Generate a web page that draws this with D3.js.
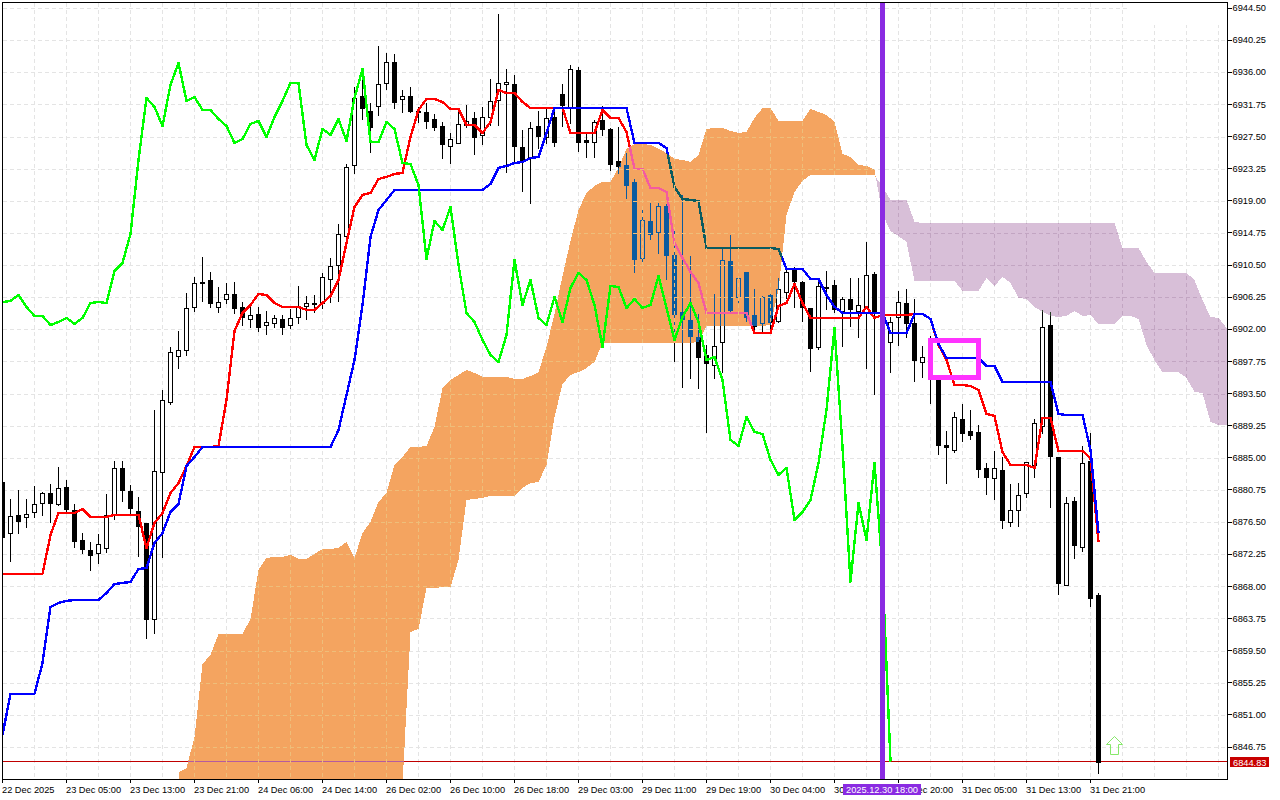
<!DOCTYPE html>
<html lang="en">
<head>
<meta charset="UTF-8">
<title>Ichimoku chart</title>
<style>
    body{ margin:0; background:#fff; }
    svg{ display:block; }
    text{ font-family:"Liberation Sans",sans-serif; font-size:9.25px; fill:#000; }
    .axis path{ display:none; }
    .axis line{ stroke:#000; shape-rendering:crispEdges; }
    .grid line{ stroke-dasharray:4 3; shape-rendering:crispEdges; }
    .wick{ stroke:#000; shape-rendering:crispEdges; }
    .body{ stroke:#000; shape-rendering:crispEdges; }
    .ind{ fill:none; stroke-width:2.4; shape-rendering:crispEdges; stroke-linejoin:round; }
    .cloud{ mix-blend-mode:difference; shape-rendering:crispEdges; }
</style>
</head>
<body>
<div id="chart"></div>
<script src="https://d3js.org/d3.v7.min.js"></script>
<script>
const opens = [
6881.80,6875.06,6877.44,6877.18,6877.84,6879.03,6880.35,6878.90,6881.15,6878.10,
6874.14,6872.81,6872.42,6873.08,6877.44,6883.66,6880.62,6877.97,6876.38,6863.68,
6883.13,6892.39,6898.47,6899.27,6904.95,6908.26,6908.52,6904.95,6906.01,6906.67,
6904.95,6903.37,6904.03,6902.57,6902.84,6903.37,6902.57,6903.63,6905.08,6905.48,
6905.48,6908.66,6910.51,6914.34,6923.74,6932.86,6930.88,6931.54,6934.58,6937.36,
6932.47,6932.86,6930.88,6930.75,6929.82,6928.89,6926.25,6926.65,6929.03,6929.95,
6927.70,6930.08,6932.33,6934.45,6934.45,6926.12,6924.66,6928.89,6927.44,6930.08,
6933.13,6931.41,6936.30,6927.04,6926.78,6929.69,6928.50,6924.27,6923.74,6921.49,
6911.43,6916.33,6914.87,6918.31,6911.83,6904.29,6903.23,6900.98,6898.60,6897.28,
6900.32,6911.04,6906.28,6909.58,6903.89,6902.84,6906.54,6903.10,6906.94,6909.85,
6908.26,6904.82,6899.66,6907.60,6907.86,6904.42,6906.01,6904.42,6904.16,6909.32,
6904.16,6900.32,6903.63,6905.48,6902.84,6897.68,6896.35,6895.82,6886.70,6886.04,
6890.14,6888.55,6888.42,6883.66,6882.33,6883.39,6876.52,6878.10,6880.35,6884.05,
6889.21,6902.57,6885.11,6868.18,6879.29,6873.21,6884.58,6866.86];
const highs = [
6881.80,6879.56,6880.75,6879.56,6881.28,6880.48,6881.54,6883.79,6882.07,6878.90,
6875.06,6873.87,6874.93,6880.22,6884.58,6884.58,6881.41,6879.82,6876.38,6891.33,
6893.97,6899.66,6901.78,6906.80,6908.92,6911.56,6909.58,6907.60,6908.13,6908.26,
6905.61,6905.22,6904.95,6904.42,6903.89,6903.89,6904.69,6907.73,6906.41,6906.54,
6909.45,6911.43,6915.93,6923.87,6934.05,6936.57,6931.94,6939.48,6938.55,6938.42,
6933.66,6934.05,6931.41,6931.94,6930.48,6929.42,6927.97,6931.27,6931.67,6930.75,
6931.41,6935.11,6943.71,6936.43,6935.64,6928.36,6929.42,6930.88,6931.27,6931.27,
6934.45,6936.96,6936.70,6927.97,6929.69,6931.54,6928.63,6928.76,6925.32,6921.88,
6917.78,6918.71,6918.71,6918.58,6915.27,6919.77,6911.70,6904.03,6899.92,6906.67,
6912.76,6914.48,6909.05,6909.58,6907.33,6906.41,6906.80,6908.79,6910.38,6910.24,
6908.39,6904.82,6908.52,6909.71,6908.52,6906.28,6908.79,6908.79,6913.55,6909.58,
6904.56,6903.63,6907.07,6907.33,6906.01,6899.79,6901.12,6895.95,6888.55,6891.06,
6892.12,6891.33,6889.35,6884.32,6885.90,6885.11,6881.54,6881.67,6884.45,6890.14,
6904.56,6904.29,6885.11,6879.82,6879.82,6886.57,6888.29,6867.12];
const lows = [
6871.49,6871.36,6875.06,6875.85,6877.18,6877.44,6876.52,6878.76,6877.84,6873.21,
6872.42,6870.17,6871.09,6872.55,6876.91,6879.29,6877.71,6872.02,6861.17,6861.83,
6871.89,6892.12,6896.88,6898.60,6904.42,6905.75,6904.95,6904.29,6905.48,6904.16,
6902.57,6902.31,6901.78,6901.38,6902.31,6901.38,6902.18,6902.84,6903.37,6904.29,
6904.82,6905.61,6905.75,6913.42,6922.68,6929.82,6925.45,6930.35,6933.79,6931.27,
6930.75,6930.75,6929.42,6928.63,6928.36,6924.66,6924.00,6926.65,6928.76,6925.19,
6926.51,6929.03,6929.03,6922.81,6924.00,6920.30,6918.71,6925.98,6926.65,6926.25,
6928.89,6929.29,6925.59,6924.79,6924.79,6927.70,6923.07,6922.68,6919.37,6909.58,
6910.77,6913.95,6912.10,6908.66,6897.81,6894.37,6895.56,6894.24,6888.42,6895.56,
6896.35,6904.29,6905.61,6903.10,6901.51,6901.51,6901.65,6902.97,6906.14,6904.95,
6903.10,6896.49,6899.40,6904.69,6904.29,6899.79,6902.44,6900.98,6896.88,6893.44,
6902.57,6896.35,6899.92,6900.98,6895.16,6895.69,6892.25,6885.51,6881.67,6885.77,
6887.23,6887.49,6882.47,6880.22,6879.56,6875.72,6875.98,6875.98,6879.82,6882.47,
6888.29,6878.50,6866.99,6868.18,6871.75,6872.68,6865.40,6843.31];
const closes = [
6874.53,6877.31,6876.65,6877.57,6878.90,6880.35,6879.03,6881.01,6878.24,6874.00,
6872.95,6872.15,6873.60,6877.44,6883.66,6880.75,6878.37,6875.98,6863.68,6883.26,
6892.65,6899.00,6899.27,6904.82,6908.13,6908.13,6905.48,6905.61,6906.67,6904.82,
6903.63,6903.89,6902.31,6902.97,6903.50,6902.31,6903.50,6905.08,6905.48,6905.35,
6908.92,6910.38,6914.61,6923.47,6932.60,6931.27,6928.76,6934.45,6937.36,6932.07,
6932.86,6930.88,6930.75,6929.56,6928.76,6926.51,6927.17,6929.16,6929.56,6927.44,
6930.08,6932.20,6934.58,6934.71,6926.25,6924.40,6928.63,6927.57,6929.95,6926.78,
6931.67,6936.43,6926.78,6926.78,6929.42,6928.50,6923.87,6923.60,6921.09,6911.30,
6916.46,6914.61,6918.31,6911.83,6904.03,6903.37,6901.12,6898.34,6897.55,6899.79,
6911.17,6904.56,6908.79,6903.63,6902.44,6906.28,6902.97,6907.33,6909.58,6908.39,
6904.95,6899.53,6907.73,6907.47,6904.69,6906.01,6904.69,6905.22,6909.18,6904.16,
6903.50,6902.97,6905.61,6902.84,6897.94,6898.34,6897.68,6886.70,6886.43,6890.40,
6888.29,6888.02,6883.53,6882.47,6883.66,6876.78,6878.10,6880.09,6884.45,6889.61,
6902.31,6885.24,6868.45,6879.03,6873.47,6884.32,6866.46,6844.83];

// tenkan, red
const tenkan = [
6869.64,6869.64,6869.64,6869.64,6869.64,6869.64,6874.80,6877.71,6877.71,6877.71,
6878.24,6877.18,6877.18,6877.18,6877.44,6877.44,6877.44,6877.44,6873.08,6876.38,
6877.71,6880.35,6881.67,6883.92,6886.43,6886.43,6886.43,6886.57,6892.65,6901.78,
6904.16,6905.22,6906.67,6906.54,6905.48,6904.95,6904.95,6904.95,6904.56,6904.56,
6905.48,6906.41,6908.52,6913.42,6918.18,6919.77,6920.03,6921.88,6922.15,6922.55,
6922.68,6927.44,6931.01,6932.47,6932.47,6932.07,6931.14,6931.14,6929.03,6929.03,
6927.97,6929.42,6933.66,6933.26,6933.26,6932.07,6931.27,6931.27,6931.27,6931.27,
6931.27,6927.97,6927.97,6927.97,6927.97,6931.01,6929.95,6929.95,6928.10,6923.21,
6923.21,6920.69,6920.69,6920.16,6913.42,6911.43,6909.58,6908.13,6904.16,6904.16,
6904.16,6904.16,6904.16,6904.16,6901.51,6901.51,6901.51,6905.08,6905.48,6907.99,
6905.48,6903.50,6903.50,6903.50,6903.50,6903.50,6903.50,6903.50,6904.95,6903.50,
6903.89,6903.89,6903.89,6903.89,6904.03,6904.03,6903.37,6899.92,6897.94,6894.64,
6894.64,6894.50,6893.97,6890.80,6890.54,6885.77,6884.05,6884.05,6884.05,6883.66,
6890.27,6890.27,6885.90,6885.90,6885.90,6885.90,6884.98,6873.87];

// kijun, blue
const kijun = [
6848.34,6853.77,6853.77,6853.77,6853.77,6857.87,6865.27,6865.80,6866.07,6866.20,
6866.20,6866.20,6866.20,6867.12,6868.31,6868.45,6868.58,6870.30,6870.43,6873.74,
6875.06,6877.84,6878.90,6883.92,6885.11,6886.43,6886.43,6886.43,6886.43,6886.43,
6886.43,6886.43,6886.43,6886.43,6886.43,6886.43,6886.43,6886.43,6886.43,6886.43,
6886.43,6886.43,6888.68,6893.31,6897.94,6905.22,6914.21,6917.78,6919.11,6920.43,
6920.43,6920.43,6920.43,6920.43,6920.43,6920.43,6920.43,6920.43,6920.43,6920.43,
6920.43,6921.22,6923.34,6923.60,6924.00,6924.13,6924.66,6924.79,6927.97,6931.27,
6931.27,6931.27,6931.27,6931.27,6931.27,6931.27,6931.27,6931.27,6931.27,6926.65,
6926.65,6926.65,6926.65,6925.98,6920.83,6919.24,6919.11,6918.97,6912.76,6912.76,
6912.76,6912.76,6912.76,6912.76,6912.76,6912.76,6912.76,6912.62,6909.98,6909.98,
6909.98,6908.66,6908.66,6906.54,6904.95,6904.16,6904.16,6904.16,6904.16,6904.16,
6904.16,6901.51,6901.51,6901.51,6904.03,6904.03,6903.37,6900.06,6898.21,6898.21,
6898.21,6898.21,6898.21,6897.15,6897.15,6895.03,6895.03,6895.03,6895.03,6895.03,
6895.03,6895.03,6890.80,6890.67,6890.67,6890.67,6886.04,6875.06];

// chikou, green, stops 26 bars before the last candle
const chikou = [
6905.61,6905.75,6906.54,6904.95,6903.76,6903.76,6902.57,6902.97,6903.50,6902.70,
6903.50,6905.48,6905.61,6905.48,6909.71,6910.77,6914.61,6924.40,6932.60,6931.41,
6928.89,6934.32,6937.23,6932.20,6932.73,6931.01,6931.01,6929.82,6928.89,6926.65,
6927.17,6929.16,6929.56,6927.44,6930.08,6932.20,6934.58,6934.58,6926.38,6924.40,
6928.50,6927.70,6929.82,6926.91,6932.60,6936.43,6926.78,6926.78,6929.42,6928.50,
6924.00,6923.87,6921.09,6911.30,6916.33,6915.14,6918.18,6910.51,6904.16,6902.97,
6900.59,6898.60,6897.68,6901.25,6911.17,6905.22,6908.52,6903.50,6902.57,6906.28,
6902.97,6907.47,6909.45,6908.52,6905.22,6899.66,6907.73,6907.60,6904.82,6906.01,
6904.82,6905.22,6909.05,6904.82,6900.59,6903.63,6905.48,6902.97,6897.94,6898.34,
6895.30,6887.36,6886.57,6890.40,6888.42,6888.15,6884.72,6882.73,6883.66,6876.78,
6877.84,6879.42,6884.32,6891.33,6902.18,6886.43,6868.58,6879.03,6874.14,6884.32,
6870.17,6844.83];

// senkou spans start at bar 22 and run past the right edge of the window
const senkouStart = 22;
const senkouA = [
6843.44,6843.97,6848.07,6857.73,6858.92,6861.70,6861.70,6861.70,6861.70,6863.68,
6870.17,6871.75,6871.89,6871.89,6872.15,6871.62,6871.62,6872.28,6872.95,6872.95,
6873.08,6873.87,6871.75,6875.06,6876.52,6879.16,6880.35,6884.05,6885.11,6886.43,
6886.43,6886.57,6889.08,6894.24,6895.30,6895.96,6896.62,6896.22,6895.69,6895.69,
6895.69,6895.69,6895.43,6895.43,6895.82,6896.35,6899.66,6904.03,6909.05,6913.68,
6917.78,6920.03,6920.96,6921.49,6921.49,6923.34,6925.85,6926.51,6926.51,6926.38,
6925.85,6925.32,6924.53,6924.40,6924.13,6925.06,6928.50,6928.63,6928.63,6928.23,
6927.97,6928.10,6929.95,6931.27,6931.27,6929.56,6929.56,6929.56,6929.56,6931.14,
6930.75,6930.35,6929.42,6925.19,6924.79,6923.74,6923.60,6923.07,
6917.25,6915.00,6914.34,6913.55,6908.39,6908.39,6908.39,6908.39,6908.39,6908.39,
6907.07,6907.07,6907.07,6908.79,6907.73,6908.92,6908.13,6906.14,6906.01,6904.95,
6904.29,6903.76,6903.63,6903.76,6904.42,6903.76,6903.89,6902.70,6902.70,6902.70,
6903.76,6903.76,6903.37,6899.92,6897.94,6896.35,6896.35,6896.35,6895.56,6893.71,
6893.58,6889.74,6889.35,6889.35];
const senkouB = [
6840.41,6840.41,6840.41,6840.41,6840.41,6840.41,6840.41,6840.41,6840.41,6840.41,
6840.41,6840.41,6840.41,6840.41,6840.41,6840.41,6840.41,6840.41,6840.41,6840.41,
6840.41,6840.41,6840.41,6840.41,6840.41,6840.41,6840.41,6840.41,6841.73,6861.96,
6862.36,6867.78,6867.78,6867.91,6867.91,6871.49,6879.42,6879.56,6879.69,6879.95,
6879.95,6879.95,6879.95,6881.01,6881.67,6881.80,6884.05,6890.40,6894.77,6895.96,
6896.35,6896.88,6897.68,6900.19,6900.19,6900.19,6900.19,6900.19,6900.19,6900.19,
6900.19,6900.19,6900.19,6900.19,6900.19,6900.32,6902.44,6902.44,6902.44,6902.44,
6902.44,6902.44,6902.44,6902.44,6902.57,6907.20,6917.12,6920.16,6921.62,6922.41,
6922.41,6922.41,6922.41,6922.41,6922.41,6922.41,6922.41,6922.41,
6920.83,6919.11,6919.11,6919.11,6916.20,6916.06,6916.06,6916.06,6916.06,6916.06,
6916.06,6916.06,6916.06,6916.06,6916.06,6916.06,6916.06,6916.06,6916.06,6916.06,
6916.06,6916.06,6916.06,6916.06,6916.06,6916.06,6916.06,6916.06,6916.06,6916.06,
6912.76,6912.76,6912.76,6910.91,6909.45,6909.45,6909.45,6909.45,6909.45,6908.52,
6905.88,6903.63,6903.50,6902.18];

const priceTicks = [6944.50,6940.25,6936.00,6931.75,6927.50,6923.25,6919.00,6914.75,6910.50,6906.25,6902.00,6897.75,
    6893.50,6889.25,6885.00,6880.75,6876.50,6872.25,6868.00,6863.75,6859.50,6855.25,6851.00,6846.75];
const timeBars = [0,8,16,24,32,40,48,56,64,72,80,88,96,104,112,120,128,136];
const timeLabels = ["22 Dec 2025","23 Dec 05:00","23 Dec 13:00","23 Dec 21:00","24 Dec 06:00","24 Dec 14:00",
    "26 Dec 02:00","26 Dec 10:00","26 Dec 18:00","29 Dec 03:00","29 Dec 11:00","29 Dec 19:00",
    "30 Dec 04:00","30 Dec 12:00","30 Dec 20:00","31 Dec 05:00","31 Dec 13:00","31 Dec 21:00"];
const lastPrice = 6844.83;
const markerBar = 110, markerLabel = "2025.12.30 18:00";
const boxBars = [116,122], boxPrices = [6900.52,6895.56];
const arrowBar = 139, arrowPrice = 6848.21;

const W = 1280, H = 800;
const plot = {left:2, right:1227, top:2, bottom:779};

let x = d3.scaleLinear().domain([0,137]).range([2.5,1098.5]);
let y = d3.scaleLinear().domain([6944.50,6846.75]).range([8,747]);

let svg = d3.select("#chart").append("svg").attr("width",W).attr("height",H);
svg.append("rect").attr("width",W).attr("height",H).attr("fill","#fff");

let defs = svg.append("defs");
defs.append("clipPath").attr("id","plotClip").append("rect")
    .attr("x",plot.left+1).attr("y",plot.top+1)
    .attr("width",plot.right-plot.left-1).attr("height",plot.bottom-plot.top-1);

let vBars = d3.range(4,154,4);

function drawGrid(parent, color){
    let g = parent.append("g").attr("class","grid");
    g.selectAll(".h").data(priceTicks).join("line").attr("class","h")
        .attr("x1",plot.left+1).attr("x2",plot.right)
        .attr("y1",d=>Math.round(y(d))+.5).attr("y2",d=>Math.round(y(d))+.5)
        .style("stroke",color);
    g.selectAll(".v").data(vBars).join("line").attr("class","v")
        .attr("x1",d=>x(d)).attr("x2",d=>x(d))
        .attr("y1",plot.top+1).attr("y2",plot.bottom)
        .style("stroke",color);
    return g;
}

let chart = svg.append("g").attr("clip-path","url(#plotClip)");
// the clip makes this group its own blend context, so it needs its own white under the cloud
chart.append("rect").attr("width",W).attr("height",H).attr("fill","#fff");
drawGrid(chart,"#e4e4e4");
// terminal leaves this corner of the grid blank
chart.append("rect").attr("x",1127).attr("y",3).attr("width",100).attr("height",22).attr("fill","#fff");

chart.append("line")
    .attr("x1",plot.left).attr("x2",plot.right)
    .attr("y1",Math.round(y(lastPrice))-.5).attr("y2",Math.round(y(lastPrice))-.5)
    .attr("stroke","#c00000").style("shape-rendering","crispEdges");

// candles
let bars = d3.range(opens.length);
chart.append("g").selectAll("line").data(bars).join("line")
    .attr("class","wick")
    .attr("x1",d=>x(d)).attr("x2",d=>x(d))
    .attr("y1",d=>Math.round(y(highs[d]))).attr("y2",d=>Math.round(y(lows[d]))+1);
chart.append("g").selectAll("rect").data(bars).join("rect")
    .attr("class","body")
    .attr("x",d=>x(d)-2).attr("width",4)
    .attr("y",d=>Math.round(y(Math.max(opens[d],closes[d])))+.5)
    .attr("height",d=>Math.max(1,Math.round(y(Math.min(opens[d],closes[d])))-Math.round(y(Math.max(opens[d],closes[d])))))
    .attr("fill",d=>closes[d]>opens[d]?"#fff":"#000");

let line = d3.line().x((d,i)=>x(i)).y(d=>y(d));
chart.append("path").attr("class","ind").attr("stroke","#ff0000").attr("d",line(tenkan));
chart.append("path").attr("class","ind").attr("stroke","#0000ff").attr("d",line(kijun));

// cloud, split where the two spans cross between bars 109 and 110
let crossIdx = 109 - senkouStart;
let a0 = senkouA[crossIdx], a1 = senkouA[crossIdx+1], b0 = senkouB[crossIdx], b1 = senkouB[crossIdx+1];
let t = (b0-a0)/((a1-a0)-(b1-b0));
let crossP = {bar:109+t, a:a0+(a1-a0)*t, b:a0+(a1-a0)*t};
let spanPts = senkouA.map((d,i)=>({bar:senkouStart+i, a:d, b:senkouB[i]}));
let orangePts = spanPts.slice(0,crossIdx+1).concat([crossP]);
let purplePts = [crossP].concat(spanPts.slice(crossIdx+1));
let area = d3.area().x(d=>x(d.bar)).y0(d=>y(d.a)).y1(d=>y(d.b));

// fill colours are the inverse of sandybrown and thistle, the terminal xors the cloud over what is below
[["orange",orangePts,"#0b5b9f","#eebe7a"],["purple",purplePts,"#274027","#c2a5c2"]].forEach(c=>{
    chart.append("path").attr("class","cloud").attr("d",area(c[1])).attr("fill",c[2]);
    defs.append("clipPath").attr("id",c[0]+"Clip").append("path").attr("d",area(c[1]));
    let clipped = chart.append("g").attr("clip-path",`url(#${c[0]}Clip)`);
    drawGrid(clipped,c[3]);
});

chart.append("path").attr("class","ind").attr("stroke","#00ff00").attr("d",line(chikou));

// vertical marker and rectangle
chart.append("line")
    .attr("x1",x(markerBar)).attr("x2",x(markerBar))
    .attr("y1",plot.top).attr("y2",plot.bottom)
    .attr("stroke","#8a2be2").attr("stroke-width",5).style("shape-rendering","crispEdges");
chart.append("rect")
    .attr("x",x(boxBars[0])).attr("width",x(boxBars[1])-x(boxBars[0]))
    .attr("y",y(boxPrices[0])).attr("height",y(boxPrices[1])-y(boxPrices[0]))
    .attr("fill","none").attr("stroke","#ff33ff").attr("stroke-width",5).style("shape-rendering","crispEdges");

chart.append("path")
    .attr("transform",`translate(${x(arrowBar)},${Math.round(y(arrowPrice))+.5})`)
    .attr("d","M0,0 L8,8 L4,8 L4,18 L-4,18 L-4,8 L-8,8 Z")
    .attr("fill","none").attr("stroke","#86e86a");

// frame and axes
svg.append("rect")
    .attr("x",plot.left+.5).attr("y",plot.top+.5)
    .attr("width",plot.right-plot.left).attr("height",plot.bottom-plot.top)
    .attr("fill","none").attr("stroke","#000").style("shape-rendering","crispEdges");

let yAxis = svg.append("g").attr("class","axis")
    .attr("transform",`translate(${plot.right+.5},0)`)
    .call(d3.axisRight(y).tickValues(priceTicks).tickFormat(d3.format(".2f")).tickSize(4).tickPadding(1).offset(0));
yAxis.selectAll("text").attr("dy","0.34em");

let xAxis = svg.append("g").attr("class","axis")
    .attr("transform",`translate(0,${plot.bottom+.5})`)
    .call(d3.axisBottom(x).tickValues(timeBars).tickFormat((d,i)=>timeLabels[i]).tickSize(3).offset(0));
xAxis.selectAll("text").attr("dy",0).attr("y",13).attr("x",-.5).attr("text-anchor","start");

// last price tag
svg.append("rect").attr("x",1230).attr("y",757).attr("width",39).attr("height",10).attr("fill","#c80000");
svg.append("text").attr("x",1233).attr("y",766).style("fill","#fff").text(d3.format(".2f")(lastPrice));

// marker date tag
svg.append("rect").attr("x",843).attr("y",784).attr("width",78).attr("height",11).attr("fill","#8a2be2");
svg.append("text").attr("x",846).attr("y",793).style("fill","#fff").text(markerLabel);
</script>
</body>
</html>
